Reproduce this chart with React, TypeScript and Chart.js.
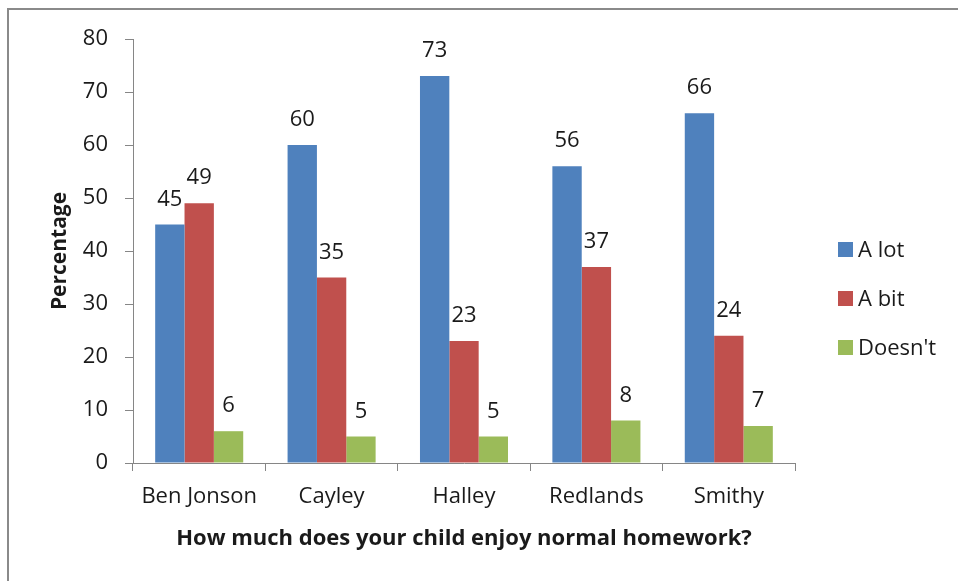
import React, { useEffect, useRef } from "react";
import { Chart, registerables } from "chart.js";

Chart.register(...registerables);

const categories = ["Ben Jonson", "Cayley", "Halley", "Redlands", "Smithy"];
const aLot = [45, 60, 73, 56, 66];
const aBit = [49, 35, 23, 37, 24];
const doesnt = [6, 5, 5, 8, 7];
const seriesLabels = ["A lot", "A bit", "Doesn't"];
const seriesColors = ["#4F81BD", "#C0504D", "#9BBB59"];
const yTitle = "Percentage";
const xTitle = "How much does your child enjoy normal homework?";

const FONT = "'Open Sans', Lato, sans-serif";
const TEXT = "#1a1a1a";
const AXIS = "#868686";

const framePlugin = {
  id: "frame",
  beforeDraw(chart: any) {
    const { ctx, width, height } = chart;
    ctx.save();
    ctx.fillStyle = "#ffffff";
    ctx.fillRect(0, 0, width, height);
    ctx.fillStyle = "#8a8a8a";
    ctx.fillRect(7, 8, 2, height);
    ctx.fillRect(7, 8, width, 2);
    ctx.restore();
  },
};

const valueLabelPlugin = {
  id: "valueLabels",
  afterDatasetsDraw(chart: any) {
    const { ctx } = chart;
    ctx.save();
    ctx.font = `22px ${FONT}`;
    ctx.fillStyle = TEXT;
    ctx.textAlign = "center";
    ctx.textBaseline = "alphabetic";
    chart.data.datasets.forEach((ds: any, i: number) => {
      const meta = chart.getDatasetMeta(i);
      meta.data.forEach((bar: any, j: number) => {
        ctx.fillText(String(ds.data[j]), bar.x, bar.y - 19);
      });
    });
    ctx.restore();
  },
};

const legendPlugin = {
  id: "sideLegend",
  afterDraw(chart: any) {
    const { ctx, chartArea } = chart;
    const x = chartArea.right + 43;
    const cy = chart.height / 2 + 8;
    const gap = 49;
    ctx.save();
    ctx.font = `22px ${FONT}`;
    ctx.textAlign = "left";
    ctx.textBaseline = "middle";
    chart.data.datasets.forEach((ds: any, i: number) => {
      const y = cy + (i - 1) * gap;
      ctx.fillStyle = ds.backgroundColor;
      ctx.fillRect(x, y - 7.5, 15, 15);
      ctx.fillStyle = TEXT;
      ctx.fillText(ds.label, x + 20, y + 1);
    });
    ctx.restore();
  },
};

export default function App() {
  const ref = useRef<HTMLCanvasElement | null>(null);

  useEffect(() => {
    document.body.style.margin = "0";
    const canvas = ref.current;
    if (!canvas) return;
    const chart = new Chart(canvas, {
      type: "bar",
      data: {
        labels: categories,
        datasets: [aLot, aBit, doesnt].map((d, i) => ({
          label: seriesLabels[i],
          data: d,
          backgroundColor: seriesColors[i],
          borderWidth: 0,
          barPercentage: 1,
          categoryPercentage: 0.665,
        })),
      },
      options: {
        animation: false,
        responsive: false,
        maintainAspectRatio: false,
        layout: { padding: { left: 0, right: 163, top: 39, bottom: 0 } },
        plugins: {
          legend: { display: false },
          tooltip: { enabled: false },
        },
        scales: {
          x: {
            grid: {
              display: true,
              drawOnChartArea: false,
              drawTicks: true,
              tickLength: 8,
              color: AXIS,
              offset: true,
            },
            border: { display: true, color: AXIS, width: 1 },
            ticks: {
              color: TEXT,
              font: { family: FONT, size: 22 },
              padding: 13,
              maxRotation: 0,
            },
            title: {
              display: true,
              text: xTitle,
              color: TEXT,
              font: { family: FONT, size: 22, weight: "bold" },
              padding: { top: 0, bottom: 29 },
            },
            afterFit(scale: any) {
              scale.height = 118;
            },
          },
          y: {
            min: 0,
            max: 80,
            ticks: {
              stepSize: 10,
              color: TEXT,
              font: { family: FONT, size: 22 },
              padding: 17,
            },
            grid: {
              display: true,
              drawOnChartArea: false,
              drawTicks: true,
              tickLength: 8,
              color: AXIS,
            },
            border: { display: true, color: AXIS, width: 1 },
            title: {
              display: true,
              text: yTitle,
              color: TEXT,
              font: { family: FONT, size: 21, weight: "bold" },
              padding: { top: 47, bottom: 0 },
            },
            afterFit(scale: any) {
              scale.width = 133;
            },
          },
        },
      },
      plugins: [framePlugin, valueLabelPlugin, legendPlugin],
    });
    return () => chart.destroy();
  }, []);

  return (
    <div style={{ width: 958, height: 581, position: "relative" }}>
      <canvas ref={ref} width={958} height={581} style={{ display: "block" }} />
    </div>
  );
}
